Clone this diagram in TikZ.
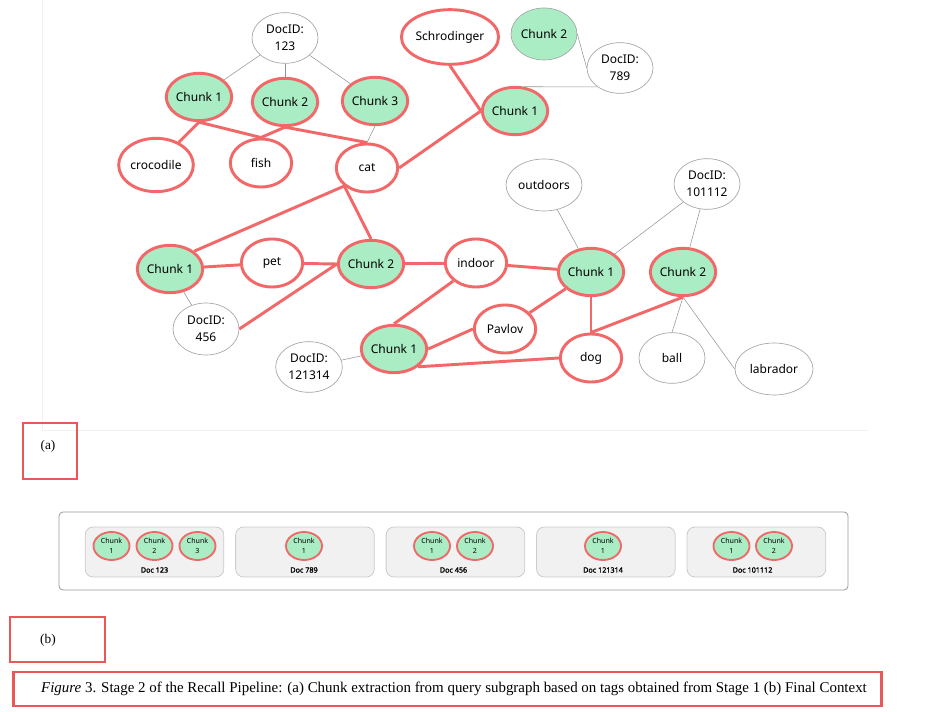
\documentclass[tikz,border=0pt]{standalone}
\usepackage{fontspec}
\setmainfont{Liberation Serif}
\newfontfamily\graphfont{Noto Sans}
\newfontfamily\graphboldfont{Noto Sans}[FakeBold=1.6]
\usetikzlibrary{shapes.geometric,positioning}
\definecolor{hlred}{RGB}{242,104,104}
\definecolor{chunkgreen}{RGB}{170,236,196}
\definecolor{docgray}{RGB}{165,165,165}
\definecolor{boxred}{RGB}{232,88,88}
\newcommand{\gfont}{\graphfont\fontsize{9}{12.5}\selectfont}
\newcommand{\minifont}{\graphfont\fontsize{5.3}{7.5}\selectfont}

\begin{document}
\begin{tikzpicture}[
  x=0.75pt, y=-0.75pt,
  node distance = 8.25pt,
  chunk/.style = {
    ellipse, draw=hlred, fill=chunkgreen, line width=2.2pt,
    minimum width=47pt, minimum height=35.5pt, inner sep=0pt, font=\gfont
  },
  freechunk/.style = {
    ellipse, draw=docgray, fill=chunkgreen, line width=0.5pt,
    minimum width=49.5pt, minimum height=39pt, inner sep=0pt, font=\gfont
  },
  tagnode/.style = {
    ellipse, draw=hlred, fill=white, line width=2.2pt,
    minimum width=46pt, minimum height=36pt, inner sep=0pt, font=\gfont
  },
  docnode/.style = {
    ellipse, draw=docgray, fill=white, line width=0.5pt,
    minimum width=49.5pt, minimum height=38pt, inner sep=0pt,
    align=center, font=\gfont
  },
  hledge/.style  = {draw=hlred, line width=2.2pt},
  docedge/.style = {draw=gray!85, line width=0.4pt},
  minichunk/.style = {
    ellipse, draw=hlred, fill=chunkgreen, line width=1.4pt,
    minimum width=27pt, minimum height=21pt, inner sep=0pt,
    align=center, font=\minifont
  },
  docbox/.style = {
    rectangle, rounded corners=6pt, draw=gray!40, fill=gray!11,
    line width=0.6pt, minimum width=104pt, minimum height=37.5pt, inner sep=0pt
  },
  doclabel/.style = {font=\graphboldfont\fontsize{5.4}{7}\selectfont, inner sep=0pt},
  panelbox/.style = {rectangle, draw=boxred, line width=2.2pt, inner sep=0pt},
  panellabel/.style = {font=\fontsize{10}{12}\selectfont, inner sep=0pt},
]
\useasboundingbox (0,0) rectangle (930,712);

%% ---- faint frame of panel (a) ----
\draw[black!6, line width=0.6pt] (42,0) -- (42,430) -- (868,430);

%% ---- Doc 123 ----
\node[docnode] (d123) at (285,38) {DocID:\\123};
\node[chunk] (ch123a) at (199,97) {Chunk 1};
\node[chunk] (ch123b) at (285,102) {Chunk 2};
\node[chunk] (ch123c) at (375,101) {Chunk 3};
\node[tagnode, minimum width=56pt, minimum height=40pt] (croc) at (156,165) {crocodile};
\node[tagnode] (fish) at (261,163) {fish};
\node[tagnode] (cat) at (367,168) {cat};

%% ---- Doc 789 ----
\node[tagnode, minimum width=70pt, minimum height=41pt] (schro) at (450,37) {Schrodinger};
\node[freechunk] (ch789b) at (544,34) {Chunk 2};
\node[docnode] (d789) at (620,68) {DocID:\\789};
\node[chunk] (ch789a) at (515,111) {Chunk 1};

%% ---- Doc 456 / 121314 ----
\node[chunk] (ch456a) at (170,269) {Chunk 1};
\node[tagnode] (pet) at (272,263) {pet};
\node[chunk] (ch456b) at (371,264) {Chunk 2};
\node[docnode, minimum height=39pt] (d456) at (206,329) {DocID:\\456};
\node[docnode, minimum width=50pt] (d121314) at (309,367) {DocID:\\121314};
\node[chunk] (ch121314) at (394,349) {Chunk 1};

%% ---- Doc 101112 ----
\node[docnode, minimum width=57pt, minimum height=39pt] (outdoors) at (544,185) {outdoors};
\node[docnode] (d101112) at (707,184) {DocID:\\101112};
\node[tagnode] (indoor) at (476,263) {indoor};
\node[chunk] (ch101112a) at (591,272) {Chunk 1};
\node[chunk] (ch101112b) at (683,272) {Chunk 2};
\node[tagnode] (pavlov) at (505,329) {Pavlov};
\node[tagnode] (dog) at (591,358) {dog};
\node[docnode] (ball) at (672,358) {ball};
\node[docnode, minimum width=58.5pt, minimum height=39pt] (labrador) at (774,369) {labrador};

%% ---- thin document / tag links ----
\draw[docedge] (d123) -- (ch123a);
\draw[docedge] (d123) -- (ch123b);
\draw[docedge] (d123) -- (ch123c);
\draw[docedge] (ch123c.south) -- (cat.north);
\draw[docedge] (ch789b.east) -- (d789.west);
\draw[docedge] (d789.220) -- (ch789a.70);
\draw[docedge] (ch456a) -- (d456);
\draw[docedge] (d121314) -- (ch121314);
\draw[docedge] (outdoors) -- (ch101112a);
\draw[docedge] (d101112) -- (ch101112a);
\draw[docedge] (d101112) -- (ch101112b);
\draw[docedge] (ch101112b.south) -- (ball.north);
\draw[docedge] (ch101112b.south) -- (labrador.west);

%% ---- highlighted query subgraph ----
\draw[hledge] (ch123a.south) -- (croc);
\draw[hledge] (ch123a.south) -- (fish.north);
\draw[hledge] (ch123b.south) -- (fish.north);
\draw[hledge] (ch123b.south) -- (cat.north);
\draw[hledge] (schro.south) -- (ch789a.west);
\draw[hledge] (cat.east) -- (ch789a.west);
\draw[hledge] (cat.south west) -- (ch456a.north east);
\draw[hledge] (cat.south west) -- (ch456b.north);
\draw[hledge] (ch456a) -- (pet);
\draw[hledge] (pet) -- (ch456b.west);
\draw[hledge] (d456.east) -- (ch456b.west);
\draw[hledge] (ch456b) -- (indoor);
\draw[hledge] (indoor) -- (ch101112a);
\draw[hledge] (indoor.south west) -- (ch121314.north);
\draw[hledge] (ch121314.east) -- (pavlov.west);
\draw[hledge] (ch121314.south east) -- (dog.west);
\draw[hledge] (pavlov) -- (ch101112a);
\draw[hledge] (ch101112a.south) -- (dog.north);
\draw[hledge] (ch101112b.south) -- (dog.north);

%% ---- panel labels ----
\node[panelbox, minimum width=40.5pt, minimum height=42pt] (pa) at (50,451) {};
\node[panellabel] (ta) at (48,446) {(a)};

%% ---- final context ----
\node[rectangle, rounded corners=3pt, draw=gray!80, line width=0.6pt,
      minimum width=591.75pt, minimum height=58.5pt] (ctx) at (453.5,551) {};
\node[docbox] (box123) at (154.5,552) {};
\node[docbox, right=of box123] (box789) {};
\node[docbox, right=of box789] (box456) {};
\node[docbox, right=of box456] (box121314) {};
\node[docbox, right=of box121314] (box101112) {};

\node[minichunk] (m123a) at (111.5,546) {Chunk\\1};
\node[minichunk] (m123b) at (154.5,546) {Chunk\\2};
\node[minichunk] (m123c) at (197.5,546) {Chunk\\3};
\node[minichunk] (m789a) at (304,546) {Chunk\\1};
\node[minichunk] (m456a) at (432,546) {Chunk\\1};
\node[minichunk] (m456b) at (475,546) {Chunk\\2};
\node[minichunk] (m121314a) at (603,546) {Chunk\\1};
\node[minichunk] (m101112a) at (731.5,546) {Chunk\\1};
\node[minichunk] (m101112b) at (774,546) {Chunk\\2};

\node[doclabel] (l123) at (154.5,570) {Doc 123};
\node[doclabel] (l789) at (304,570) {Doc 789};
\node[doclabel] (l456) at (453.5,570) {Doc 456};
\node[doclabel] (l121314) at (603,570) {Doc 121314};
\node[doclabel] (l101112) at (752.5,570) {Doc 101112};

\node[panelbox, minimum width=71.25pt, minimum height=33.75pt] (pb) at (57.5,639.5) {};
\node[panellabel] (tb) at (48,640) {(b)};

%% ---- caption ----
\node[panelbox, minimum width=651pt, minimum height=25.5pt] (cap) at (447.5,689) {};
\node[panellabel, font=\fontsize{11.2}{13}\selectfont] (captext) at (454,689) {\textit{Figure} 3. Stage 2 of the Recall Pipeline: (a) Chunk extraction from query subgraph based on tags obtained from Stage 1 (b) Final Context};

\end{tikzpicture}
\end{document}
